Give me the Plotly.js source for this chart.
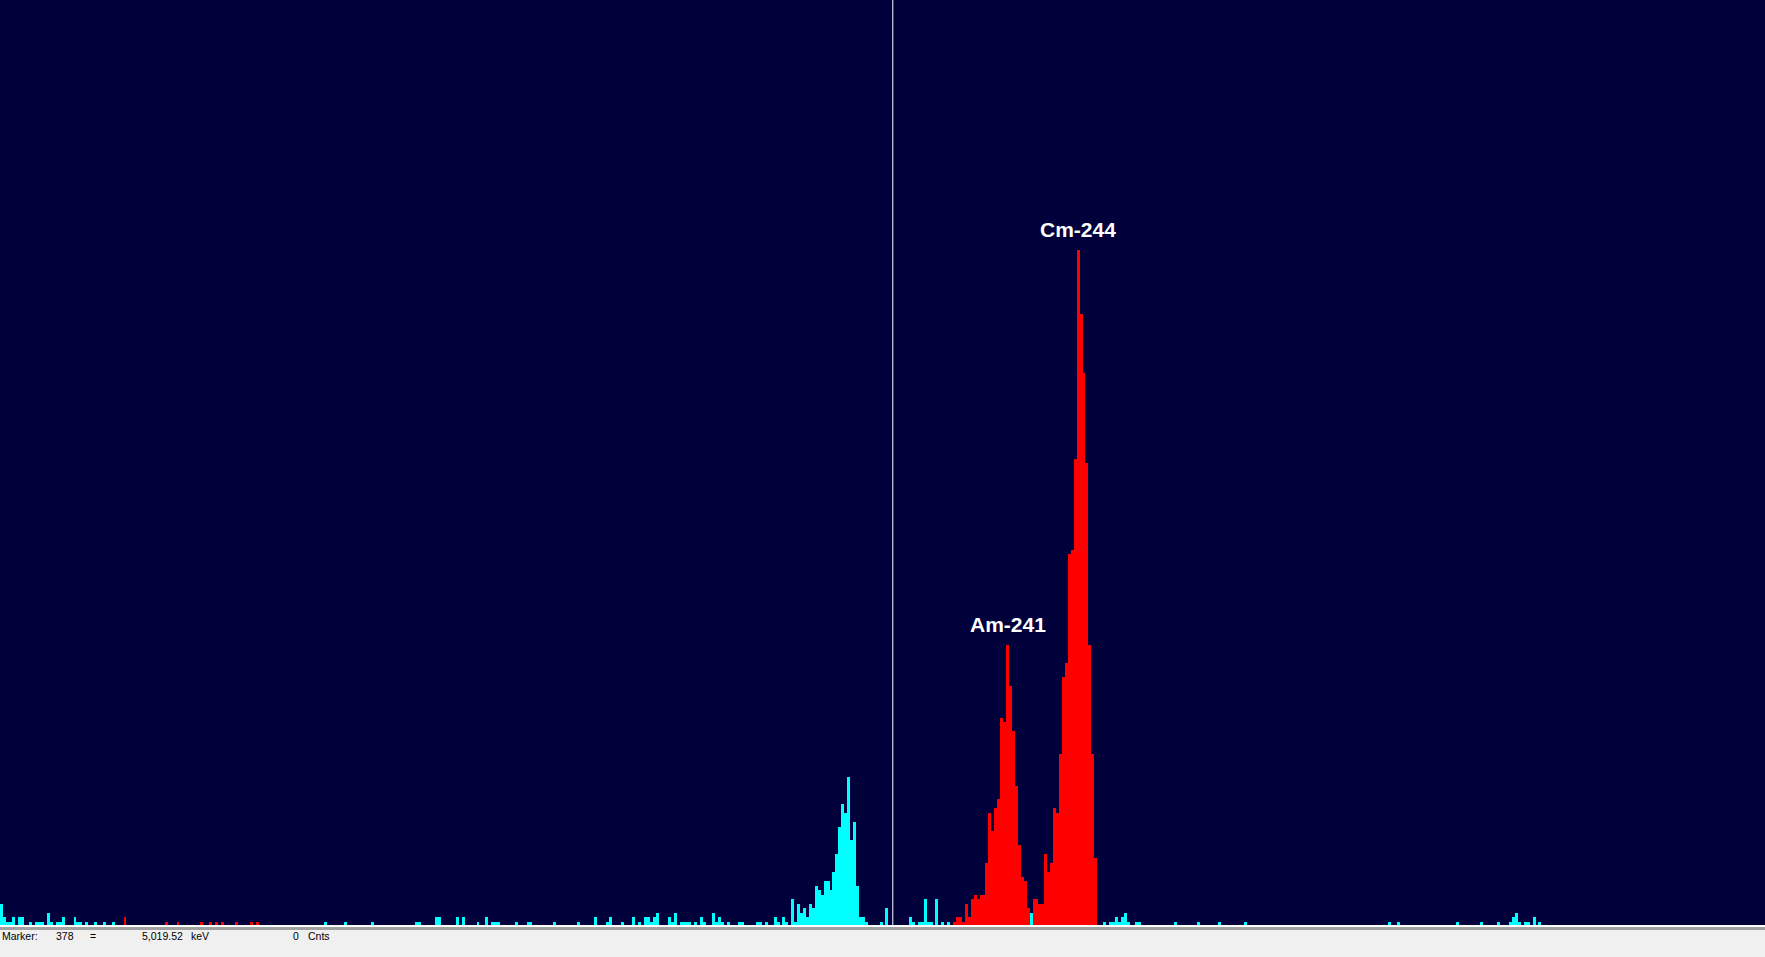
<!DOCTYPE html>
<html>
<head>
<meta charset="utf-8">
<script src="https://cdn.plot.ly/plotly-3.0.1.min.js"></script>
<style>
html,body{margin:0;padding:0;background:#f0f0f0;overflow:hidden;}
#chart{width:1765px;height:957px;}
</style>
</head>
<body>
<div id="chart"></div>
<script>
// ---- Spectrum data (channel numbers and counts) ----
const cyanChannels = [75,76,77,78,79,81,82,85,87,88,89,91,92,94,95,96,100,101,102,104,107,110,113,
  185,192,201,216,217,223,224,230,232,237,240,242,243,244,250,254,255,263,271,277,281,282,286,290,292,
  294,295,296,297,298,302,303,304,306,307,308,309,311,313,314,317,318,319,320,322,326,327,332,333,335,
  338,339,341,342,344,345,346,347,348,349,350,351,352,353,354,355,356,357,358,359,360,361,362,363,364,
  365,366,367,368,369,374,376,384,385,387,388,389,390,391,393,395,397,425,450,452,453,454,455,456,457,
  458,461,462,474,482,489,498,547,550,570,578,584,588,589,590,591,593,594,596,598];
const cyanCounts = [5,2,1,1,2,2,2,1,1,1,1,3,1,1,1,2,2,1,1,1,1,1,1,
  1,1,1,1,1,2,2,2,2,1,2,1,1,1,1,1,1,1,1,2,1,2,1,2,1,
  2,2,1,2,3,2,1,3,1,1,1,1,1,2,1,3,1,2,1,1,1,1,1,1,1,
  2,1,2,1,6,1,5,3,4,2,5,4,9,8,7,10,10,8,12,16,22,27,25,33,19,
  23,9,2,2,1,1,4,2,1,1,1,6,1,1,6,1,1,3,1,1,1,2,1,2,3,
  1,1,1,1,1,1,1,1,1,1,1,1,1,2,3,1,1,1,2,1];

const redChannels = [117,131,135,143,146,148,150,155,160,162,
  399,400,401,402,403,404,405,406,407,408,409,410,411,412,413,414,415,416,417,418,419,420,421,422,423,424,
  426,427,428,429,430,431,432,433,434,435,436,437,438,439,440,441,442,443,444,445,446,447];
const redCounts = [2,1,1,1,1,1,1,1,1,1,
  1,2,2,1,5,2,6,7,6,7,7,14,25,21,26,28,46,45,62,53,43,31,18,11,10,4,
  6,6,5,5,16,12,14,26,25,38,55,58,82,83,103,149,135,122,102,62,38,15];

const peakLabels = ["Am-241", "Cm-244"];
const peakChannels = [417, 441];

const markerChannel = 378;
const statusTexts = ["Marker:", "378", "=", "5,019.52", "keV", "0", "Cnts"];

// ---- layout geometry ----
const W = 1765, H = 957, plotH = 925;
const xRange = [74.5, 674.5];
const yRange = [0.33, 0.33 + plotH / 4.54];

const countOf = (ch) => {
  const k = redChannels.indexOf(ch);
  return k >= 0 ? redCounts[k] : cyanCounts[cyanChannels.indexOf(ch)];
};

const traces = [
  {type: 'bar', x: cyanChannels, y: cyanCounts, width: 1,
   marker: {color: '#00ffff', line: {width: 0}}, hoverinfo: 'skip'},
  {type: 'bar', x: redChannels, y: redCounts, width: 1,
   marker: {color: '#ff0000', line: {width: 0}}, hoverinfo: 'skip'}
];

const statusX = [1, 55, 89, 141, 190, 292, 307];
const annotations = [];
peakLabels.forEach((t, k) => {
  annotations.push({
    x: peakChannels[k], y: countOf(peakChannels[k]), xref: 'x', yref: 'y',
    text: '<b>' + t + '</b>', showarrow: false, xanchor: 'center', yanchor: 'middle', yshift: 21,
    font: {family: 'Liberation Sans, Arial, sans-serif', size: 21, color: '#ffffff'}
  });
});
statusTexts.forEach((t, k) => {
  annotations.push({
    x: statusX[k] / W, y: (plotH - 935.8) / plotH, xref: 'paper', yref: 'paper',
    text: t, showarrow: false, xanchor: 'left', yanchor: 'middle', borderpad: 0,
    font: {family: 'Liberation Sans, Arial, sans-serif', size: 10.5, color: '#000000'}
  });
});

const layout = {
  width: W, height: H,
  margin: {l: 0, r: 0, t: 0, b: H - plotH, pad: 0},
  paper_bgcolor: '#f0f0f0',
  plot_bgcolor: '#00003a',
  showlegend: false,
  barmode: 'overlay',
  bargap: 0,
  xaxis: {range: xRange, visible: false, showgrid: false, zeroline: false, fixedrange: true},
  yaxis: {range: yRange, visible: false, showgrid: false, zeroline: false, fixedrange: true},
  shapes: [
    {type: 'line', xref: 'x', yref: 'paper', x0: markerChannel, x1: markerChannel, y0: 0, y1: 1,
     line: {color: '#ffffff', width: 1}},
    {type: 'rect', xref: 'paper', yref: 'paper', x0: 0, x1: 1, y0: -2 / plotH, y1: 0,
     fillcolor: '#ffffff', line: {width: 0}},
    {type: 'rect', xref: 'paper', yref: 'paper', x0: 0, x1: 1, y0: -5 / plotH, y1: -2 / plotH,
     fillcolor: '#a0a0a0', line: {width: 0}}
  ],
  annotations: annotations
};

Plotly.newPlot('chart', traces, layout, {staticPlot: true, displayModeBar: false});
</script>
</body>
</html>
